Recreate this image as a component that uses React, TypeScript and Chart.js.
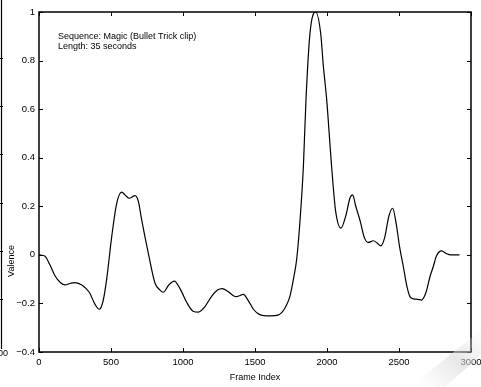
import React, { useEffect, useRef } from 'react';
import { Chart, registerables } from 'chart.js';

Chart.register(...registerables);

const frameIndex = [
  0, 40, 75, 110, 150, 180, 220, 250, 300, 350, 390, 419, 445, 470, 505, 540, 574, 600, 627, 667,
  690, 713, 759, 806, 840, 863, 900, 940, 980, 1030, 1070, 1107, 1150, 1200, 1240, 1273, 1310, 1350,
  1373, 1419, 1450, 1490, 1530, 1560, 1610, 1660, 1690, 1720, 1743, 1770, 1789, 1810, 1836, 1854,
  1882, 1921, 1956, 1975, 1998, 2032, 2060, 2097, 2130, 2160, 2178, 2200, 2230, 2260, 2287, 2322,
  2350, 2373, 2400, 2430, 2456, 2480, 2505, 2530, 2555, 2576, 2600, 2630, 2657, 2690, 2715, 2738,
  2760, 2796, 2830, 2860, 2920,
];
const valence = [
  0, -0.005, -0.04, -0.085, -0.115, -0.124, -0.117, -0.114, -0.125, -0.155, -0.205, -0.224, -0.19,
  -0.1, 0.075, 0.213, 0.258, 0.245, 0.233, 0.244, 0.22, 0.144, 0.007, -0.117, -0.145, -0.154, -0.125,
  -0.108, -0.14, -0.2, -0.232, -0.236, -0.215, -0.17, -0.145, -0.139, -0.15, -0.168, -0.172, -0.163,
  -0.185, -0.225, -0.245, -0.25, -0.251, -0.248, -0.235, -0.205, -0.17, -0.09, -0.02, 0.12, 0.364,
  0.638, 0.913, 1.0, 0.913, 0.775, 0.638, 0.364, 0.18, 0.11, 0.16, 0.235, 0.247, 0.2, 0.14, 0.07,
  0.051, 0.058, 0.048, 0.037, 0.07, 0.16, 0.192, 0.13, 0.03, -0.048, -0.13, -0.172, -0.181, -0.183,
  -0.186, -0.15, -0.09, -0.048, -0.005, 0.016, 0.005, 0, 0,
];
const xTicks = [0, 500, 1000, 1500, 2000, 2500, 3000];
const yTicks = [-0.4, -0.2, 0, 0.2, 0.4, 0.6, 0.8, 1];
const annotationLines = ['Sequence: Magic (Bullet Trick clip)', 'Length: 35 seconds'];
const xTitle = 'Frame Index';
const yTitle = 'Valence';

const FONT = '"Liberation Sans", Arial, Helvetica, sans-serif';

const decorPlugin = {
  id: 'decor',
  afterDraw(chart: any) {
    const { ctx, chartArea } = chart;
    const { left, right, top, bottom } = chartArea;
    const xs = chart.scales.x;
    const ys = chart.scales.y;
    ctx.save();
    // frame
    ctx.strokeStyle = '#000';
    ctx.lineWidth = 1.5;
    ctx.strokeRect(left, top, right - left, bottom - top);
    // inward ticks
    ctx.lineWidth = 1;
    const tl = 4;
    ctx.beginPath();
    xTicks.forEach((v) => {
      const px = Math.round(xs.getPixelForValue(v)) + 0.5;
      ctx.moveTo(px, bottom);
      ctx.lineTo(px, bottom - tl);
      ctx.moveTo(px, top);
      ctx.lineTo(px, top + tl);
    });
    yTicks.forEach((v) => {
      const py = Math.round(ys.getPixelForValue(v)) + 0.5;
      ctx.moveTo(left, py);
      ctx.lineTo(left + tl, py);
      ctx.moveTo(right, py);
      ctx.lineTo(right - tl, py);
    });
    ctx.stroke();

    // annotation text
    ctx.fillStyle = '#000';
    ctx.font = `9px ${FONT}`;
    ctx.textAlign = 'left';
    ctx.textBaseline = 'middle';
    annotationLines.forEach((t, i) => {
      ctx.fillText(t, left + 19, top + 25 + i * 10);
    });

    // axis titles
    ctx.font = `9px ${FONT}`;
    ctx.textAlign = 'center';
    ctx.fillText(xTitle, (left + right) / 2, 378);
    ctx.save();
    ctx.translate(12, 261);
    ctx.rotate(-Math.PI / 2);
    ctx.fillText(yTitle, 0, 0);
    ctx.restore();

    // edge of neighbouring figure on the left
    ctx.strokeStyle = '#000';
    ctx.lineWidth = 1.2;
    ctx.beginPath();
    ctx.moveTo(1.5, 0);
    ctx.lineTo(1.5, 349);
    [58, 106, 154, 203, 251, 299].forEach((y) => {
      ctx.moveTo(0, y + 0.5);
      ctx.lineTo(3, y + 0.5);
    });
    ctx.stroke();
    ctx.textAlign = 'left';
    ctx.fillText('00', -2, 354);

    // faint page swoosh bottom right
    const g = ctx.createLinearGradient(420, 387, 481, 320);
    g.addColorStop(0, 'rgba(225,225,225,0)');
    g.addColorStop(0.5, 'rgba(215,215,215,0.6)');
    g.addColorStop(1, 'rgba(240,240,240,0)');
    ctx.fillStyle = g;
    ctx.beginPath();
    ctx.moveTo(481, 330);
    ctx.lineTo(481, 355);
    ctx.lineTo(445, 387);
    ctx.lineTo(410, 387);
    ctx.closePath();
    ctx.fill();
    ctx.restore();
  },
};

export default function App() {
  const ref = useRef<HTMLCanvasElement | null>(null);
  useEffect(() => {
    document.body.style.margin = '0';
    document.body.style.background = '#fff';
    const canvas = ref.current;
    if (!canvas) return;
    const points = frameIndex.map((x, i) => ({ x, y: valence[i] }));
    const chart = new Chart(canvas, {
      type: 'scatter',
      data: {
        datasets: [
          {
            data: points,
            showLine: true,
            borderColor: '#000',
            borderWidth: 1.2,
            pointRadius: 0,
            cubicInterpolationMode: 'monotone',
            fill: false,
          } as any,
        ],
      },
      options: {
        animation: false,
        responsive: false,
        devicePixelRatio: 1,
        layout: { padding: { top: 12, right: 10, left: 0, bottom: 0 } },
        plugins: { legend: { display: false }, tooltip: { enabled: false } },
        scales: {
          x: {
            type: 'linear',
            min: 0,
            max: 3000,
            afterBuildTicks: (s: any) => {
              s.ticks = xTicks.map((v) => ({ value: v }));
            },
            afterFit: (s: any) => {
              s.height = 35;
              s.paddingLeft = 0;
              s.paddingRight = 0;
            },
            grid: { display: false, drawTicks: false },
            border: { display: false },
            ticks: {
              color: '#000',
              font: { family: FONT, size: 9.5 },
              padding: 5,
              maxRotation: 0,
              autoSkip: false,
              callback: (v: any) => String(v),
            },
          },
          y: {
            type: 'linear',
            min: -0.4,
            max: 1,
            afterBuildTicks: (s: any) => {
              s.ticks = yTicks.map((v) => ({ value: v }));
            },
            afterFit: (s: any) => {
              s.width = 39;
              s.paddingTop = 0;
              s.paddingBottom = 0;
            },
            grid: { display: false, drawTicks: false },
            border: { display: false },
            ticks: {
              color: '#000',
              font: { family: FONT, size: 9.5 },
              padding: 4,
              autoSkip: false,
              callback: (v: any) => {
                const n = Math.round(Number(v) * 10) / 10;
                return String(n).replace('-', '\u2212');
              },
            },
          },
        },
      },
      plugins: [decorPlugin],
    });
    return () => chart.destroy();
  }, []);
  return <canvas ref={ref} width={481} height={387} style={{ display: 'block' }} />;
}
